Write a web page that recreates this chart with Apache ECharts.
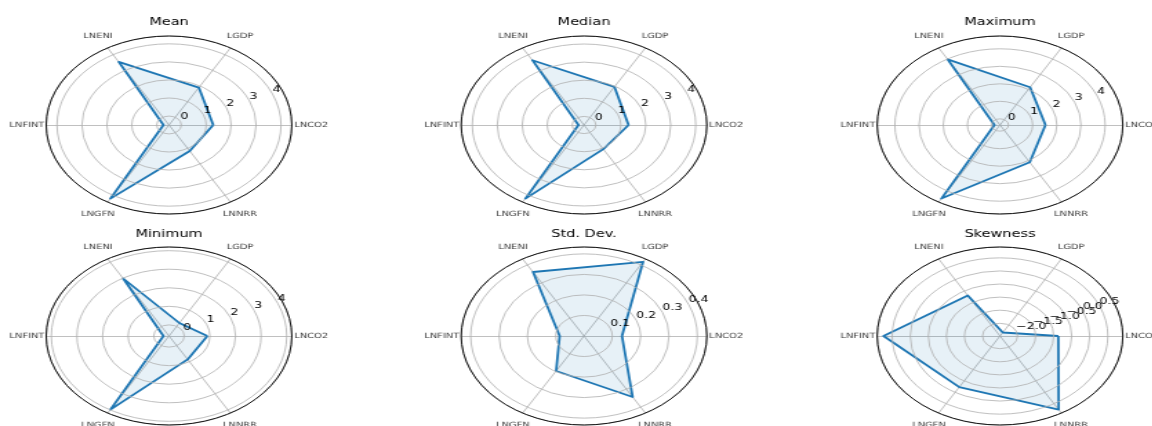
<!DOCTYPE html>
<html>
<head>
<meta charset="utf-8">
<script src="https://cdn.jsdelivr.net/npm/echarts@6/dist/echarts.min.js"></script>
<style>
  html, body { margin: 0; padding: 0; background: #fff; overflow: hidden; }
  #wrap { width: 1152px; height: 426px; overflow: hidden; }
  /* the figure is laid out in a narrower box and widened horizontally */
  #chart { width: 835px; height: 426px; transform: scaleX(1.38); transform-origin: 0 0; }
</style>
</head>
<body>
<div id="wrap"><div id="chart"></div></div>
<script>
// Variables, counter-clockwise from the right-hand spoke
const variables = ['LNCO2', 'LGDP', 'LNENI', 'LNFINT', 'LNGFN', 'LNNRR'];
const panelTitles = ['Mean', 'Median', 'Maximum', 'Minimum', 'Std. Dev.', 'Skewness'];

// Descriptive statistics, one value per variable
const mean     = [1.28, 1.90, 3.54, -0.27, 4.21, 1.17];
const median   = [1.31, 1.96, 3.66, -0.25, 4.22, 1.07];
const maximum  = [1.53, 2.14, 3.98, -0.12, 4.50, 2.11];
const minimum  = [0.90, 0.21, 2.98, -0.38, 3.98, 0.86];
const stdDev   = [0.134, 0.417, 0.360, 0.086, 0.197, 0.343];
const skewness = [-0.87, -2.33, -0.70, 0.74, -0.23, 0.76];

// decimals shown on the radial tick labels of each panel
const tickDecimals = [0, 0, 0, 0, 1, 1];

const panels = [mean, median, maximum, minimum, stdDev, skewness];

const STRETCH = 1.38;
const colX = [169, 584, 1000].map(function (x) { return x / STRETCH; });
const rowY = [125, 336];
const titleTop = [17, 229];
const R = 89;          // radius of the frame circle
const NAME_R = 103;    // radius at which the variable names are centred
const FONT = 'DejaVu Sans';

// radial limits: data range padded by 5 %, always including 0 at the bottom
function radialLimits(vals) {
  const lo = Math.min.apply(null, vals), hi = Math.max.apply(null, vals);
  const pad = 0.05 * (hi - lo);
  return [Math.min(0, lo - pad), hi + pad];
}

function tickFormatter(decimals) {
  return function (v) {
    const s = Math.abs(v).toFixed(decimals);
    return (v < 0 && Number(s) !== 0 ? '\u2212' : '') + s;
  };
}

const option = {
  backgroundColor: '#fff',
  animation: false,
  textStyle: { fontFamily: FONT },
  title: [], radar: [], polar: [], angleAxis: [], radiusAxis: [], series: []
};

panels.forEach(function (vals, i) {
  const cx = colX[i % 3];
  const cy = rowY[Math.floor(i / 3)];
  const lim = radialLimits(vals);

  option.title.push({
    text: panelTitles[i],
    left: cx, top: titleTop[Math.floor(i / 3)],
    textAlign: 'center', padding: 0,
    textStyle: { fontFamily: FONT, fontSize: 10.5, fontWeight: 'normal', color: '#000' }
  });

  // spokes + data polygon
  option.radar.push({
    center: [cx, cy], radius: R, startAngle: 0, shape: 'circle', splitNumber: 1,
    indicator: variables.map(function (n) { return { name: n, min: lim[0], max: lim[1] }; }),
    axisName: { show: false },
    axisLine: { lineStyle: { color: '#b0b0b0', width: 0.8 } },
    axisTick: { show: false },
    axisLabel: { show: false },
    splitLine: { show: false },
    splitArea: { show: false }
  });

  // rings, frame and radial tick labels
  option.polar.push({ center: [cx, cy], radius: R });
  option.angleAxis.push({
    polarIndex: 2 * i, type: 'value', min: 0, max: 360, startAngle: 22.5, z: 6,
    axisLine: { show: true, lineStyle: { color: '#111', width: 1 } },
    axisTick: { show: false }, axisLabel: { show: false }, splitLine: { show: false }
  });
  option.radiusAxis.push({
    polarIndex: 2 * i, type: 'value', min: lim[0], max: lim[1], z: 5,
    axisLine: { show: false }, axisTick: { show: false },
    splitLine: { show: true, showMinLine: false, showMaxLine: false,
                 lineStyle: { color: '#b0b0b0', width: 0.8 } },
    axisLabel: {
      show: true, showMinLabel: false, showMaxLabel: false, margin: 0,
      align: 'left', verticalAlign: 'bottom',
      color: '#000', fontSize: 9, fontFamily: FONT,
      formatter: tickFormatter(tickDecimals[i])
    }
  });

  // variable names around the frame
  option.polar.push({ center: [cx, cy], radius: NAME_R });
  option.angleAxis.push({
    polarIndex: 2 * i + 1, type: 'category', data: variables, boundaryGap: false,
    startAngle: 0, clockwise: false, show: false
  });
  option.radiusAxis.push({ polarIndex: 2 * i + 1, type: 'value', min: 0, max: 1, show: false });

  option.series.push({
    type: 'radar', radarIndex: i, symbol: 'none', silent: true, z: 3,
    lineStyle: { color: '#1f77b4', width: 1.8 },
    areaStyle: { color: 'rgba(31,119,180,0.15)' },
    data: [{ value: vals, name: panelTitles[i] }]
  });
  option.series.push({
    type: 'scatter', coordinateSystem: 'polar', polarIndex: 2 * i + 1,
    symbolSize: 0, silent: true,
    data: variables.map(function (n) { return [1, n]; }),
    label: {
      show: true, position: 'inside', color: '#000', fontSize: 7.2, fontFamily: FONT,
      formatter: function (p) { return p.value[1]; }
    }
  });
});

const chart = echarts.init(document.getElementById('chart'), null, { renderer: 'canvas' });
chart.setOption(option);
</script>
</body>
</html>
